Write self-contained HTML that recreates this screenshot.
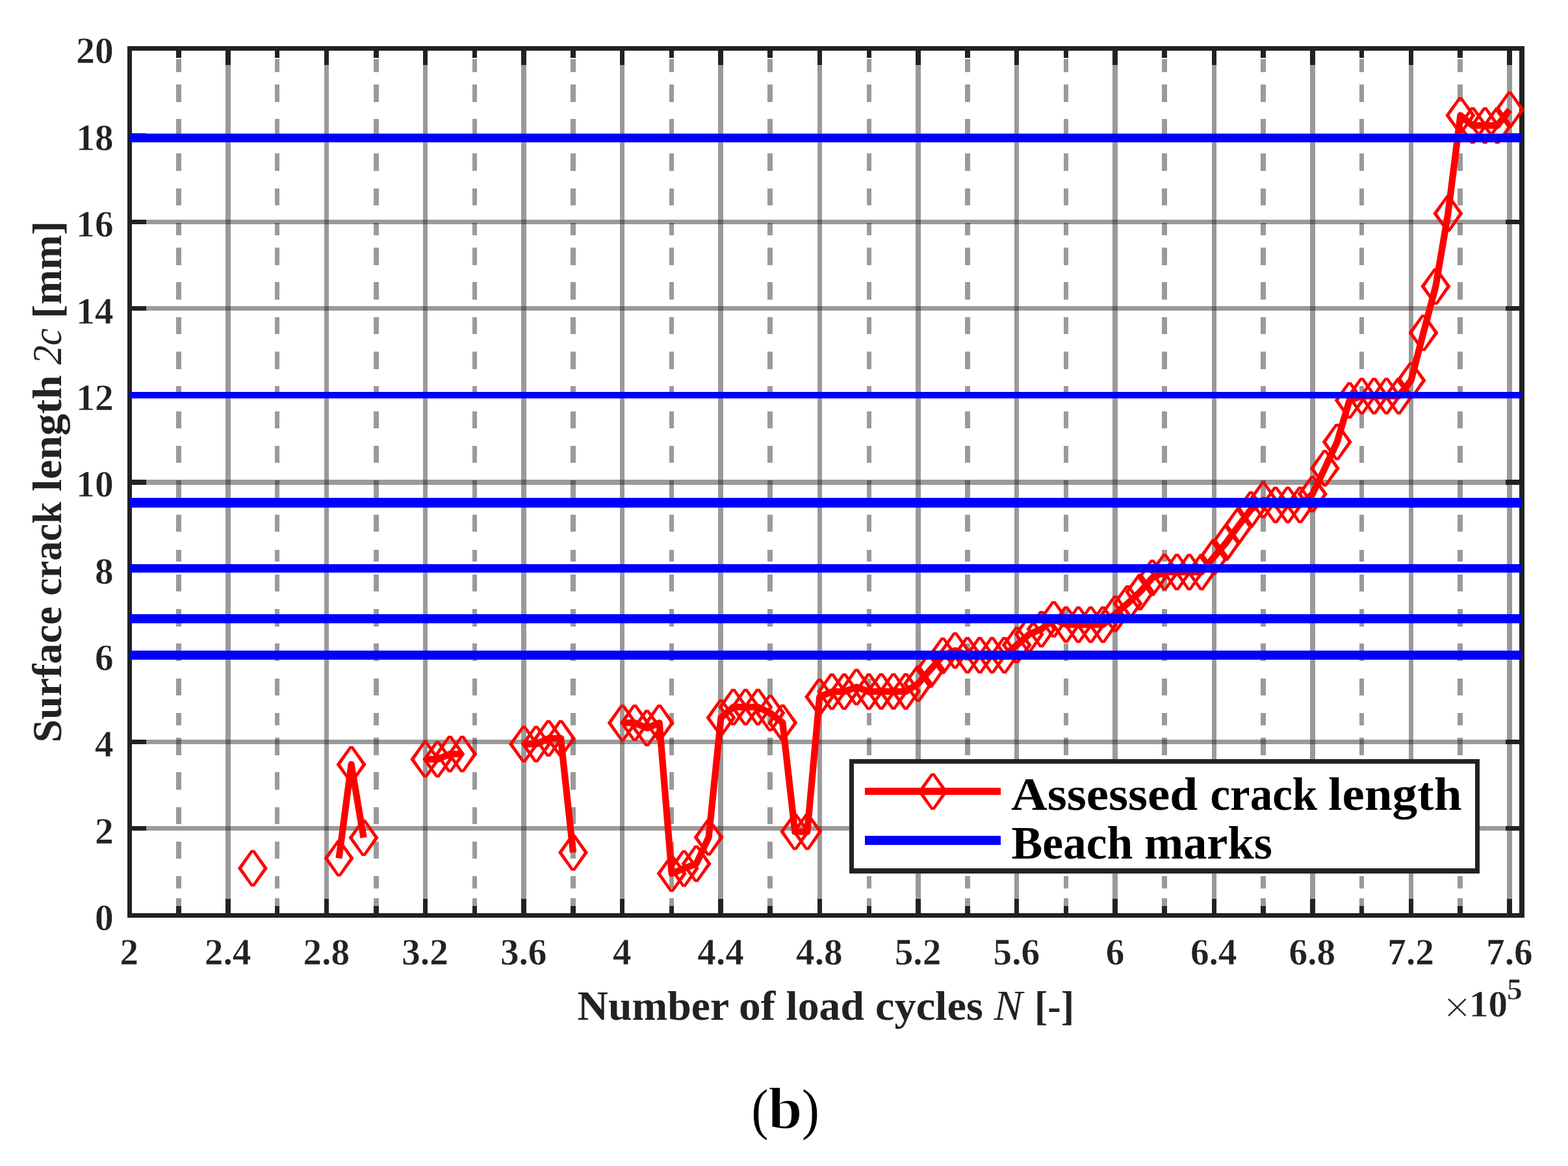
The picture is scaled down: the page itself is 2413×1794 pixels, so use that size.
<!DOCTYPE html>
<html lang="en"><head><meta charset="utf-8"><title>Surface crack length vs. number of load cycles (b)</title>
<style>
html,body{margin:0;padding:0;background:#fff}
body{width:2413px;height:1794px;overflow:hidden}
svg{display:block}
text{font-family:"Liberation Serif","DejaVu Serif",serif;fill:#222}
.b{font-weight:bold}
.bt{font-weight:bold;stroke:#fff;stroke-width:0.5px}
.bk{font-weight:bold;fill:#000}
.b2{font-weight:bold;fill:#000;stroke:#fff;stroke-width:1.6px}
.i{font-style:italic;font-weight:normal}
.r{font-weight:normal}
.rx{font-weight:normal;stroke:#fff;stroke-width:1.2px}
.k{fill:#000}
</style></head><body>
<svg width="2413" height="1794" viewBox="0 0 2413 1794">
<rect width="2413" height="1794" fill="#fff"/>
<defs>
<path id="dm" fill-rule="evenodd" d="M-2.7 -28.1H2.7L23.1 0L2.7 28.1H-2.7L-23.1 0ZM0 -24.3L16.75 0L0 24.3L-16.75 0Z"/>
</defs>
<g fill="#222222" fill-opacity="0.46">
<path d="M347 78H355V1405H347ZM499 78H506V1405H499ZM651 78H658V1405H651ZM802 78H810V1405H802ZM954 78H961V1405H954ZM1105 78H1113V1405H1105ZM1258 78H1265V1405H1258ZM1409 78H1417V1405H1409ZM1561 78H1568V1405H1561ZM1712 78H1720V1405H1712ZM1865 78H1872V1405H1865ZM2016 78H2024V1405H2016ZM2168 78H2175V1405H2168ZM2319 78H2327V1405H2319Z"/>
<path d="M203 1271H2338V1278H203ZM203 1138H2338V1145H203ZM203 1005H2338V1012H203ZM203 871H2338V879H203ZM203 738H2338V746H203ZM203 604H2338V612H203ZM203 471H2338V478H203ZM203 338H2338V345H203ZM203 205H2338V212H203Z"/>
<path d="M271 91H279V111H271ZM271 130H279V157H271ZM271 183H279V210H271ZM271 236H279V263H271ZM271 290H279V316H271ZM271 343H279V362H271ZM271 381H279V408H271ZM271 434H279V461H271ZM271 488H279V514H271ZM271 541H279V568H271ZM271 594H279V613H271ZM271 633H279V659H271ZM271 686H279V712H271ZM271 739H279V766H271ZM271 792H279V818H271ZM271 846H279V864H271ZM271 884H279V910H271ZM271 937H279V964H271ZM271 990H279V1017H271ZM271 1044H279V1070H271ZM271 1097H279V1116H271ZM271 1135H279V1162H271ZM271 1188H279V1215H271ZM271 1242H279V1268H271ZM271 1295H279V1321H271ZM271 1348H279V1367H271ZM271 1382H279V1395H271ZM423 91H430V111H423ZM423 130H430V157H423ZM423 183H430V210H423ZM423 236H430V263H423ZM423 290H430V316H423ZM423 343H430V362H423ZM423 381H430V408H423ZM423 434H430V461H423ZM423 488H430V514H423ZM423 541H430V568H423ZM423 594H430V613H423ZM423 633H430V659H423ZM423 686H430V712H423ZM423 739H430V766H423ZM423 792H430V818H423ZM423 846H430V864H423ZM423 884H430V910H423ZM423 937H430V964H423ZM423 990H430V1017H423ZM423 1044H430V1070H423ZM423 1097H430V1116H423ZM423 1135H430V1162H423ZM423 1188H430V1215H423ZM423 1242H430V1268H423ZM423 1295H430V1321H423ZM423 1348H430V1367H423ZM423 1382H430V1395H423ZM575 91H583V111H575ZM575 130H583V157H575ZM575 183H583V210H575ZM575 236H583V263H575ZM575 290H583V316H575ZM575 343H583V362H575ZM575 381H583V408H575ZM575 434H583V461H575ZM575 488H583V514H575ZM575 541H583V568H575ZM575 594H583V613H575ZM575 633H583V659H575ZM575 686H583V712H575ZM575 739H583V766H575ZM575 792H583V818H575ZM575 846H583V864H575ZM575 884H583V910H575ZM575 937H583V964H575ZM575 990H583V1017H575ZM575 1044H583V1070H575ZM575 1097H583V1116H575ZM575 1135H583V1162H575ZM575 1188H583V1215H575ZM575 1242H583V1268H575ZM575 1295H583V1321H575ZM575 1348H583V1367H575ZM575 1382H583V1395H575ZM727 91H734V111H727ZM727 130H734V157H727ZM727 183H734V210H727ZM727 236H734V263H727ZM727 290H734V316H727ZM727 343H734V362H727ZM727 381H734V408H727ZM727 434H734V461H727ZM727 488H734V514H727ZM727 541H734V568H727ZM727 594H734V613H727ZM727 633H734V659H727ZM727 686H734V712H727ZM727 739H734V766H727ZM727 792H734V818H727ZM727 846H734V864H727ZM727 884H734V910H727ZM727 937H734V964H727ZM727 990H734V1017H727ZM727 1044H734V1070H727ZM727 1097H734V1116H727ZM727 1135H734V1162H727ZM727 1188H734V1215H727ZM727 1242H734V1268H727ZM727 1295H734V1321H727ZM727 1348H734V1367H727ZM727 1382H734V1395H727ZM878 91H886V111H878ZM878 130H886V157H878ZM878 183H886V210H878ZM878 236H886V263H878ZM878 290H886V316H878ZM878 343H886V362H878ZM878 381H886V408H878ZM878 434H886V461H878ZM878 488H886V514H878ZM878 541H886V568H878ZM878 594H886V613H878ZM878 633H886V659H878ZM878 686H886V712H878ZM878 739H886V766H878ZM878 792H886V818H878ZM878 846H886V864H878ZM878 884H886V910H878ZM878 937H886V964H878ZM878 990H886V1017H878ZM878 1044H886V1070H878ZM878 1097H886V1116H878ZM878 1135H886V1162H878ZM878 1188H886V1215H878ZM878 1242H886V1268H878ZM878 1295H886V1321H878ZM878 1348H886V1367H878ZM878 1382H886V1395H878ZM1030 91H1037V111H1030ZM1030 130H1037V157H1030ZM1030 183H1037V210H1030ZM1030 236H1037V263H1030ZM1030 290H1037V316H1030ZM1030 343H1037V362H1030ZM1030 381H1037V408H1030ZM1030 434H1037V461H1030ZM1030 488H1037V514H1030ZM1030 541H1037V568H1030ZM1030 594H1037V613H1030ZM1030 633H1037V659H1030ZM1030 686H1037V712H1030ZM1030 739H1037V766H1030ZM1030 792H1037V818H1030ZM1030 846H1037V864H1030ZM1030 884H1037V910H1030ZM1030 937H1037V964H1030ZM1030 990H1037V1017H1030ZM1030 1044H1037V1070H1030ZM1030 1097H1037V1116H1030ZM1030 1135H1037V1162H1030ZM1030 1188H1037V1215H1030ZM1030 1242H1037V1268H1030ZM1030 1295H1037V1321H1030ZM1030 1348H1037V1367H1030ZM1030 1382H1037V1395H1030ZM1181 91H1189V111H1181ZM1181 130H1189V157H1181ZM1181 183H1189V210H1181ZM1181 236H1189V263H1181ZM1181 290H1189V316H1181ZM1181 343H1189V362H1181ZM1181 381H1189V408H1181ZM1181 434H1189V461H1181ZM1181 488H1189V514H1181ZM1181 541H1189V568H1181ZM1181 594H1189V613H1181ZM1181 633H1189V659H1181ZM1181 686H1189V712H1181ZM1181 739H1189V766H1181ZM1181 792H1189V818H1181ZM1181 846H1189V864H1181ZM1181 884H1189V910H1181ZM1181 937H1189V964H1181ZM1181 990H1189V1017H1181ZM1181 1044H1189V1070H1181ZM1181 1097H1189V1116H1181ZM1181 1135H1189V1162H1181ZM1181 1188H1189V1215H1181ZM1181 1242H1189V1268H1181ZM1181 1295H1189V1321H1181ZM1181 1348H1189V1367H1181ZM1181 1382H1189V1395H1181ZM1334 91H1341V111H1334ZM1334 130H1341V157H1334ZM1334 183H1341V210H1334ZM1334 236H1341V263H1334ZM1334 290H1341V316H1334ZM1334 343H1341V362H1334ZM1334 381H1341V408H1334ZM1334 434H1341V461H1334ZM1334 488H1341V514H1334ZM1334 541H1341V568H1334ZM1334 594H1341V613H1334ZM1334 633H1341V659H1334ZM1334 686H1341V712H1334ZM1334 739H1341V766H1334ZM1334 792H1341V818H1334ZM1334 846H1341V864H1334ZM1334 884H1341V910H1334ZM1334 937H1341V964H1334ZM1334 990H1341V1017H1334ZM1334 1044H1341V1070H1334ZM1334 1097H1341V1116H1334ZM1334 1135H1341V1162H1334ZM1334 1188H1341V1215H1334ZM1334 1242H1341V1268H1334ZM1334 1295H1341V1321H1334ZM1334 1348H1341V1367H1334ZM1334 1382H1341V1395H1334ZM1485 91H1493V111H1485ZM1485 130H1493V157H1485ZM1485 183H1493V210H1485ZM1485 236H1493V263H1485ZM1485 290H1493V316H1485ZM1485 343H1493V362H1485ZM1485 381H1493V408H1485ZM1485 434H1493V461H1485ZM1485 488H1493V514H1485ZM1485 541H1493V568H1485ZM1485 594H1493V613H1485ZM1485 633H1493V659H1485ZM1485 686H1493V712H1485ZM1485 739H1493V766H1485ZM1485 792H1493V818H1485ZM1485 846H1493V864H1485ZM1485 884H1493V910H1485ZM1485 937H1493V964H1485ZM1485 990H1493V1017H1485ZM1485 1044H1493V1070H1485ZM1485 1097H1493V1116H1485ZM1485 1135H1493V1162H1485ZM1485 1188H1493V1215H1485ZM1485 1242H1493V1268H1485ZM1485 1295H1493V1321H1485ZM1485 1348H1493V1367H1485ZM1485 1382H1493V1395H1485ZM1637 91H1644V111H1637ZM1637 130H1644V157H1637ZM1637 183H1644V210H1637ZM1637 236H1644V263H1637ZM1637 290H1644V316H1637ZM1637 343H1644V362H1637ZM1637 381H1644V408H1637ZM1637 434H1644V461H1637ZM1637 488H1644V514H1637ZM1637 541H1644V568H1637ZM1637 594H1644V613H1637ZM1637 633H1644V659H1637ZM1637 686H1644V712H1637ZM1637 739H1644V766H1637ZM1637 792H1644V818H1637ZM1637 846H1644V864H1637ZM1637 884H1644V910H1637ZM1637 937H1644V964H1637ZM1637 990H1644V1017H1637ZM1637 1044H1644V1070H1637ZM1637 1097H1644V1116H1637ZM1637 1135H1644V1162H1637ZM1637 1188H1644V1215H1637ZM1637 1242H1644V1268H1637ZM1637 1295H1644V1321H1637ZM1637 1348H1644V1367H1637ZM1637 1382H1644V1395H1637ZM1788 91H1796V111H1788ZM1788 130H1796V157H1788ZM1788 183H1796V210H1788ZM1788 236H1796V263H1788ZM1788 290H1796V316H1788ZM1788 343H1796V362H1788ZM1788 381H1796V408H1788ZM1788 434H1796V461H1788ZM1788 488H1796V514H1788ZM1788 541H1796V568H1788ZM1788 594H1796V613H1788ZM1788 633H1796V659H1788ZM1788 686H1796V712H1788ZM1788 739H1796V766H1788ZM1788 792H1796V818H1788ZM1788 846H1796V864H1788ZM1788 884H1796V910H1788ZM1788 937H1796V964H1788ZM1788 990H1796V1017H1788ZM1788 1044H1796V1070H1788ZM1788 1097H1796V1116H1788ZM1788 1135H1796V1162H1788ZM1788 1188H1796V1215H1788ZM1788 1242H1796V1268H1788ZM1788 1295H1796V1321H1788ZM1788 1348H1796V1367H1788ZM1788 1382H1796V1395H1788ZM1940 91H1948V111H1940ZM1940 130H1948V157H1940ZM1940 183H1948V210H1940ZM1940 236H1948V263H1940ZM1940 290H1948V316H1940ZM1940 343H1948V362H1940ZM1940 381H1948V408H1940ZM1940 434H1948V461H1940ZM1940 488H1948V514H1940ZM1940 541H1948V568H1940ZM1940 594H1948V613H1940ZM1940 633H1948V659H1940ZM1940 686H1948V712H1940ZM1940 739H1948V766H1940ZM1940 792H1948V818H1940ZM1940 846H1948V864H1940ZM1940 884H1948V910H1940ZM1940 937H1948V964H1940ZM1940 990H1948V1017H1940ZM1940 1044H1948V1070H1940ZM1940 1097H1948V1116H1940ZM1940 1135H1948V1162H1940ZM1940 1188H1948V1215H1940ZM1940 1242H1948V1268H1940ZM1940 1295H1948V1321H1940ZM1940 1348H1948V1367H1940ZM1940 1382H1948V1395H1940ZM2092 91H2099V111H2092ZM2092 130H2099V157H2092ZM2092 183H2099V210H2092ZM2092 236H2099V263H2092ZM2092 290H2099V316H2092ZM2092 343H2099V362H2092ZM2092 381H2099V408H2092ZM2092 434H2099V461H2092ZM2092 488H2099V514H2092ZM2092 541H2099V568H2092ZM2092 594H2099V613H2092ZM2092 633H2099V659H2092ZM2092 686H2099V712H2092ZM2092 739H2099V766H2092ZM2092 792H2099V818H2092ZM2092 846H2099V864H2092ZM2092 884H2099V910H2092ZM2092 937H2099V964H2092ZM2092 990H2099V1017H2092ZM2092 1044H2099V1070H2092ZM2092 1097H2099V1116H2092ZM2092 1135H2099V1162H2092ZM2092 1188H2099V1215H2092ZM2092 1242H2099V1268H2092ZM2092 1295H2099V1321H2092ZM2092 1348H2099V1367H2092ZM2092 1382H2099V1395H2092ZM2243 91H2251V111H2243ZM2243 130H2251V157H2243ZM2243 183H2251V210H2243ZM2243 236H2251V263H2243ZM2243 290H2251V316H2243ZM2243 343H2251V362H2243ZM2243 381H2251V408H2243ZM2243 434H2251V461H2243ZM2243 488H2251V514H2243ZM2243 541H2251V568H2243ZM2243 594H2251V613H2243ZM2243 633H2251V659H2243ZM2243 686H2251V712H2243ZM2243 739H2251V766H2243ZM2243 792H2251V818H2243ZM2243 846H2251V864H2243ZM2243 884H2251V910H2243ZM2243 937H2251V964H2243ZM2243 990H2251V1017H2243ZM2243 1044H2251V1070H2243ZM2243 1097H2251V1116H2243ZM2243 1135H2251V1162H2243ZM2243 1188H2251V1215H2243ZM2243 1242H2251V1268H2243ZM2243 1295H2251V1321H2243ZM2243 1348H2251V1367H2243ZM2243 1382H2251V1395H2243Z"/>
</g>
<path fill="#222222" d="M347 78H355V100H347ZM347 1383H355V1405H347ZM499 78H506V100H499ZM499 1383H506V1405H499ZM651 78H658V100H651ZM651 1383H658V1405H651ZM802 78H810V100H802ZM802 1383H810V1405H802ZM954 78H961V100H954ZM954 1383H961V1405H954ZM1105 78H1113V100H1105ZM1105 1383H1113V1405H1105ZM1258 78H1265V100H1258ZM1258 1383H1265V1405H1258ZM1409 78H1417V100H1409ZM1409 1383H1417V1405H1409ZM1561 78H1568V100H1561ZM1561 1383H1568V1405H1561ZM1712 78H1720V100H1712ZM1712 1383H1720V1405H1712ZM1865 78H1872V100H1865ZM1865 1383H1872V1405H1865ZM2016 78H2024V100H2016ZM2016 1383H2024V1405H2016ZM2168 78H2175V100H2168ZM2168 1383H2175V1405H2168ZM2319 78H2327V100H2319ZM2319 1383H2327V1405H2319ZM271 78H279V89H271ZM271 1394H279V1405H271ZM423 78H430V89H423ZM423 1394H430V1405H423ZM575 78H583V89H575ZM575 1394H583V1405H575ZM727 78H734V89H727ZM727 1394H734V1405H727ZM878 78H886V89H878ZM878 1394H886V1405H878ZM1030 78H1037V89H1030ZM1030 1394H1037V1405H1030ZM1181 78H1189V89H1181ZM1181 1394H1189V1405H1181ZM1334 78H1341V89H1334ZM1334 1394H1341V1405H1334ZM1485 78H1493V89H1485ZM1485 1394H1493V1405H1485ZM1637 78H1644V89H1637ZM1637 1394H1644V1405H1637ZM1788 78H1796V89H1788ZM1788 1394H1796V1405H1788ZM1940 78H1948V89H1940ZM1940 1394H1948V1405H1940ZM2092 78H2099V89H2092ZM2092 1394H2099V1405H2092ZM2243 78H2251V89H2243ZM2243 1394H2251V1405H2243ZM203 1271H225V1278H203ZM2317 1271H2338V1278H2317ZM203 1138H225V1145H203ZM2317 1138H2338V1145H2317ZM203 1005H225V1012H203ZM2317 1005H2338V1012H2317ZM203 871H225V879H203ZM2317 871H2338V879H2317ZM203 738H225V746H203ZM2317 738H2338V746H2317ZM203 604H225V612H203ZM2317 604H2338V612H2317ZM203 471H225V478H203ZM2317 471H2338V478H2317ZM203 338H225V345H203ZM2317 338H2338V345H2317ZM203 205H225V212H203ZM2317 205H2338V212H2317ZM196 71H203V1412H196ZM2338 71H2346V1412H2338ZM196 71H2346V78H196ZM196 1405H2346V1412H196Z"/>
<path d="M521.6 1320.5L540.6 1176.2L559.6 1288.9M654.4 1168.2L673.3 1168.2L692.3 1160.2L711.3 1160.2M806.1 1144.9L825.1 1144.9L844.0 1136.2L863.0 1136.2L882.0 1311.7M957.8 1112.2L976.8 1112.2L995.7 1120.2L1014.7 1112.2L1033.7 1344.1L1052.6 1336.3L1071.6 1328.9L1090.6 1288.3L1109.5 1104.2L1128.5 1087.9L1147.4 1087.9L1166.4 1087.9L1185.4 1097.1L1204.3 1111.9L1223.3 1279.6L1242.3 1279.6L1261.2 1072.2L1280.2 1064.2L1299.2 1064.2L1318.1 1057.2L1337.1 1064.2L1356.1 1063.8L1375.0 1063.8L1394.0 1063.8L1412.9 1051.8L1431.9 1030.2L1450.9 1008.8L1469.8 1000.8L1488.8 1008.2L1507.8 1008.2L1526.7 1008.2L1545.7 1008.2L1564.7 992.5L1583.6 976.1L1602.6 968.1L1621.5 952.8L1640.5 960.8L1659.5 961.1L1678.4 961.1L1697.4 961.1L1716.4 944.3L1735.3 928.5L1754.3 910.8L1773.3 889.0L1792.2 880.1L1811.2 880.1L1830.2 880.1L1849.1 880.1L1868.1 857.0L1887.0 834.8L1906.0 808.8L1925.0 784.1L1943.9 769.4L1962.9 776.9L1981.9 776.9L2000.8 776.9L2019.8 760.1L2038.8 720.4L2057.7 680.0L2076.7 616.0L2095.6 609.4L2114.6 609.4L2133.6 609.4L2152.5 609.4L2171.5 585.3L2190.5 512.0L2209.4 440.6L2228.4 328.6L2247.4 177.5L2266.3 193.2L2285.3 193.2L2304.3 193.2L2323.2 168.9" fill="none" stroke="#ff0000" stroke-width="10.3" stroke-linejoin="round" stroke-linecap="butt"/>
<g fill="#ff0000">
<use href="#dm" x="388.9" y="1335.9"/>
<use href="#dm" x="521.6" y="1320.5"/>
<use href="#dm" x="540.6" y="1176.2"/>
<use href="#dm" x="559.6" y="1288.9"/>
<use href="#dm" x="654.4" y="1168.2"/>
<use href="#dm" x="673.3" y="1168.2"/>
<use href="#dm" x="692.3" y="1160.2"/>
<use href="#dm" x="711.3" y="1160.2"/>
<use href="#dm" x="806.1" y="1144.9"/>
<use href="#dm" x="825.1" y="1144.9"/>
<use href="#dm" x="844.0" y="1136.2"/>
<use href="#dm" x="863.0" y="1136.2"/>
<use href="#dm" x="882.0" y="1311.7"/>
<use href="#dm" x="957.8" y="1112.2"/>
<use href="#dm" x="976.8" y="1112.2"/>
<use href="#dm" x="995.7" y="1120.2"/>
<use href="#dm" x="1014.7" y="1112.2"/>
<use href="#dm" x="1033.7" y="1344.1"/>
<use href="#dm" x="1052.6" y="1336.3"/>
<use href="#dm" x="1071.6" y="1328.9"/>
<use href="#dm" x="1090.6" y="1288.3"/>
<use href="#dm" x="1109.5" y="1104.2"/>
<use href="#dm" x="1128.5" y="1087.9"/>
<use href="#dm" x="1147.4" y="1087.9"/>
<use href="#dm" x="1166.4" y="1087.9"/>
<use href="#dm" x="1185.4" y="1097.1"/>
<use href="#dm" x="1204.3" y="1111.9"/>
<use href="#dm" x="1223.3" y="1279.6"/>
<use href="#dm" x="1242.3" y="1279.6"/>
<use href="#dm" x="1261.2" y="1072.2"/>
<use href="#dm" x="1280.2" y="1064.2"/>
<use href="#dm" x="1299.2" y="1064.2"/>
<use href="#dm" x="1318.1" y="1057.2"/>
<use href="#dm" x="1337.1" y="1064.2"/>
<use href="#dm" x="1356.1" y="1063.8"/>
<use href="#dm" x="1375.0" y="1063.8"/>
<use href="#dm" x="1394.0" y="1063.8"/>
<use href="#dm" x="1412.9" y="1051.8"/>
<use href="#dm" x="1431.9" y="1030.2"/>
<use href="#dm" x="1450.9" y="1008.8"/>
<use href="#dm" x="1469.8" y="1000.8"/>
<use href="#dm" x="1488.8" y="1008.2"/>
<use href="#dm" x="1507.8" y="1008.2"/>
<use href="#dm" x="1526.7" y="1008.2"/>
<use href="#dm" x="1545.7" y="1008.2"/>
<use href="#dm" x="1564.7" y="992.5"/>
<use href="#dm" x="1583.6" y="976.1"/>
<use href="#dm" x="1602.6" y="968.1"/>
<use href="#dm" x="1621.5" y="952.8"/>
<use href="#dm" x="1640.5" y="960.8"/>
<use href="#dm" x="1659.5" y="961.1"/>
<use href="#dm" x="1678.4" y="961.1"/>
<use href="#dm" x="1697.4" y="961.1"/>
<use href="#dm" x="1716.4" y="944.3"/>
<use href="#dm" x="1735.3" y="928.5"/>
<use href="#dm" x="1754.3" y="910.8"/>
<use href="#dm" x="1773.3" y="889.0"/>
<use href="#dm" x="1792.2" y="880.1"/>
<use href="#dm" x="1811.2" y="880.1"/>
<use href="#dm" x="1830.2" y="880.1"/>
<use href="#dm" x="1849.1" y="880.1"/>
<use href="#dm" x="1868.1" y="857.0"/>
<use href="#dm" x="1887.0" y="834.8"/>
<use href="#dm" x="1906.0" y="808.8"/>
<use href="#dm" x="1925.0" y="784.1"/>
<use href="#dm" x="1943.9" y="769.4"/>
<use href="#dm" x="1962.9" y="776.9"/>
<use href="#dm" x="1981.9" y="776.9"/>
<use href="#dm" x="2000.8" y="776.9"/>
<use href="#dm" x="2019.8" y="760.1"/>
<use href="#dm" x="2038.8" y="720.4"/>
<use href="#dm" x="2057.7" y="680.0"/>
<use href="#dm" x="2076.7" y="616.0"/>
<use href="#dm" x="2095.6" y="609.4"/>
<use href="#dm" x="2114.6" y="609.4"/>
<use href="#dm" x="2133.6" y="609.4"/>
<use href="#dm" x="2152.5" y="609.4"/>
<use href="#dm" x="2171.5" y="585.3"/>
<use href="#dm" x="2190.5" y="512.0"/>
<use href="#dm" x="2209.4" y="440.6"/>
<use href="#dm" x="2228.4" y="328.6"/>
<use href="#dm" x="2247.4" y="177.5"/>
<use href="#dm" x="2266.3" y="193.2"/>
<use href="#dm" x="2285.3" y="193.2"/>
<use href="#dm" x="2304.3" y="193.2"/>
<use href="#dm" x="2323.2" y="168.9"/>
</g>
<path fill="#0000ff" d="M199 206H2342V219H199ZM199 603H2342V613H199ZM199 766H2342V781H199ZM199 868H2342V881H199ZM199 945H2342V959H199ZM199 1001H2342V1015H199Z"/>
<path fill="#fff" d="M1307 1168H2277V1344H1307Z"/>
<path fill="#222222" d="M1307 1168H2277V1175H1307ZM1307 1336H2277V1344H1307ZM1307 1168H1314V1344H1307ZM2270 1168H2277V1344H2270Z"/>
<path fill="#ff0000" d="M1331 1212H1540V1223H1331Z"/>
<use href="#dm" x="1435.5" y="1217.9" fill="#ff0000"/>
<path fill="#0000ff" d="M1331 1286H1540V1300H1331Z"/>
<g font-size="57.3" class="bt" text-anchor="end">
<text x="174.6" y="1431.2">0</text>
<text x="174.6" y="1297.8">2</text>
<text x="174.6" y="1164.4">4</text>
<text x="174.6" y="1031.1">6</text>
<text x="174.6" y="897.7">8</text>
<text x="174.6" y="764.3">10</text>
<text x="174.6" y="630.9">12</text>
<text x="174.6" y="497.5">14</text>
<text x="174.6" y="364.2">16</text>
<text x="174.6" y="230.8">18</text>
<text x="174.6" y="97.4">20</text>
</g>
<g font-size="57.3" class="bt" text-anchor="middle">
<text x="198.8" y="1484.4">2</text>
<text x="350.6" y="1484.4">2.4</text>
<text x="502.3" y="1484.4">2.8</text>
<text x="654.0" y="1484.4">3.2</text>
<text x="805.7" y="1484.4">3.6</text>
<text x="957.4" y="1484.4">4</text>
<text x="1109.1" y="1484.4">4.4</text>
<text x="1260.8" y="1484.4">4.8</text>
<text x="1412.5" y="1484.4">5.2</text>
<text x="1564.3" y="1484.4">5.6</text>
<text x="1716.0" y="1484.4">6</text>
<text x="1867.7" y="1484.4">6.4</text>
<text x="2019.4" y="1484.4">6.8</text>
<text x="2171.1" y="1484.4">7.2</text>
<text x="2322.8" y="1484.4">7.6</text>
</g>
<text><tspan x="2221.5" y="1574.1" font-size="71.0" class="rx" textLength="41.6" lengthAdjust="spacingAndGlyphs">×</tspan><tspan x="2261.0" y="1564.0" font-size="57.3" class="bt" textLength="59.2" lengthAdjust="spacingAndGlyphs">10</tspan><tspan x="2319.0" y="1537.6" font-size="46.0" class="bt" textLength="23.7" lengthAdjust="spacingAndGlyphs">5</tspan></text>
<text><tspan x="888.5" y="1569.2" font-size="64.0" class="b" textLength="233.6" lengthAdjust="spacingAndGlyphs">Number</tspan> <tspan x="1137.0" y="1569.2" font-size="64.0" class="b" textLength="56.1" lengthAdjust="spacingAndGlyphs">of</tspan> <tspan x="1209.5" y="1569.2" font-size="64.0" class="b" textLength="120.4" lengthAdjust="spacingAndGlyphs">load</tspan> <tspan x="1347.0" y="1569.2" font-size="64.0" class="b" textLength="165.8" lengthAdjust="spacingAndGlyphs">cycles</tspan> <tspan x="1529.5" y="1569.2" font-size="64.6" class="i" textLength="44.2" lengthAdjust="spacingAndGlyphs">N</tspan> <tspan x="1592.0" y="1569.2" font-size="64.0" class="b" textLength="61.1" lengthAdjust="spacingAndGlyphs">[-]</tspan></text>
<g transform="translate(93.8 1139) rotate(-90)"><text><tspan x="-3.5" y="0.0" font-size="64.0" class="b" textLength="209.5" lengthAdjust="spacingAndGlyphs">Surface</tspan> <tspan x="222.5" y="0.0" font-size="64.0" class="b" textLength="144.3" lengthAdjust="spacingAndGlyphs">crack</tspan> <tspan x="383.0" y="0.0" font-size="64.0" class="b" textLength="178.8" lengthAdjust="spacingAndGlyphs">length</tspan> <tspan x="578.0" y="0.0" font-size="63.5" class="i" textLength="55.7" lengthAdjust="spacingAndGlyphs">2c</tspan> <tspan x="649.0" y="0.0" font-size="64.0" class="b" textLength="149.9" lengthAdjust="spacingAndGlyphs">[mm]</tspan></text></g>
<text><tspan x="1556.0" y="1246.4" font-size="71.0" class="bk" textLength="287.2" lengthAdjust="spacingAndGlyphs">Assessed</tspan> <tspan x="1862.5" y="1246.4" font-size="71.0" class="bk" textLength="164.7" lengthAdjust="spacingAndGlyphs">crack</tspan> <tspan x="2044.0" y="1246.4" font-size="71.0" class="bk" textLength="205.6" lengthAdjust="spacingAndGlyphs">length</tspan></text>
<text><tspan x="1556.5" y="1321.0" font-size="71.0" class="bk" textLength="186.8" lengthAdjust="spacingAndGlyphs">Beach</tspan> <tspan x="1761.0" y="1321.0" font-size="71.0" class="bk" textLength="196.8" lengthAdjust="spacingAndGlyphs">marks</tspan></text>
<text><tspan x="1156.5" y="1736.2" font-size="87.0" class="r k" textLength="25.9" lengthAdjust="spacingAndGlyphs">(</tspan><tspan x="1182.0" y="1736.4" font-size="91.0" class="b2" textLength="52.7" lengthAdjust="spacingAndGlyphs">b</tspan><tspan x="1234.0" y="1736.2" font-size="87.0" class="r k" textLength="26.8" lengthAdjust="spacingAndGlyphs">)</tspan></text>
</svg>
</body></html>
